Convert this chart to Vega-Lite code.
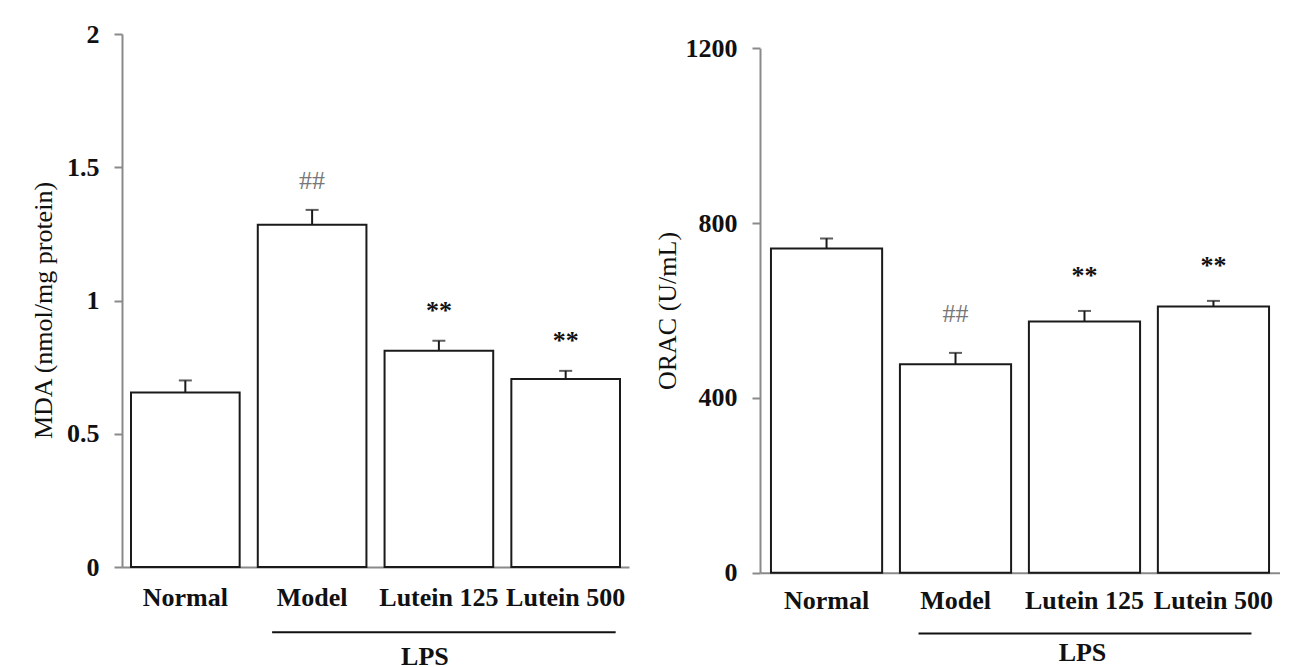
{
  "$schema": "https://vega.github.io/schema/vega-lite/v6.json",
  "background": "white",
  "padding": {"left": 30, "top": 21, "right": 0, "bottom": 0},
  "config": {
    "font": "Liberation Serif",
    "view": {"stroke": null},
    "axis": {"grid": false, "labelFont": "Liberation Serif", "titleFont": "Liberation Serif"}
  },
  "datasets": {
    "mda": [
      {"group": "Normal", "value": 0.655, "upper": 0.70, "sig": ""},
      {"group": "Model", "value": 1.284, "upper": 1.34, "sig": "##"},
      {"group": "Lutein 125", "value": 0.811, "upper": 0.849, "sig": "**"},
      {"group": "Lutein 500", "value": 0.705, "upper": 0.736, "sig": "**"}
    ],
    "orac": [
      {"group": "Normal", "value": 742, "upper": 765, "sig": ""},
      {"group": "Model", "value": 477, "upper": 503, "sig": "##"},
      {"group": "Lutein 125", "value": 575, "upper": 599, "sig": "**"},
      {"group": "Lutein 500", "value": 609, "upper": 622, "sig": "**"}
    ],
    "lps": [
      {"label": "LPS", "from": "Model", "to": "Lutein 500", "center": "Lutein 125"}
    ]
  },
  "spacing": 25,
  "hconcat": [
    {
      "width": 507,
      "height": 533,
      "layer": [
        {
          "data": {"name": "mda"},
          "mark": {"type": "bar", "fill": "white", "stroke": "#1a1a1a", "strokeWidth": 2},
          "encoding": {
            "x": {
              "field": "group", "type": "nominal",
              "scale": {"domain": ["Normal", "Model", "Lutein 125", "Lutein 500"], "paddingInner": 0.143, "paddingOuter": 0.071},
              "axis": {
                "title": null, "labelAngle": 0, "ticks": false,
                "domainColor": "#8a8a8a", "domainWidth": 2,
                "labelFontSize": 26, "labelFontWeight": "bold", "labelColor": "#111",
                "labelPadding": 17
              }
            },
            "y": {
              "field": "value", "type": "quantitative",
              "scale": {"domain": [0, 2], "nice": false},
              "axis": {
                "title": "MDA (nmol/mg protein)", "values": [0, 0.5, 1, 1.5, 2], "format": "~g",
                "domainColor": "#8a8a8a", "domainWidth": 2,
                "tickColor": "#8a8a8a", "tickWidth": 2, "tickSize": 8,
                "labelFontSize": 26, "labelFontWeight": "bold", "labelColor": "#111", "labelPadding": 15,
                "titleFontSize": 26, "titleFontWeight": "normal", "titleColor": "#111", "titlePadding": 10,
                "titleY": 276
              }
            }
          }
        },
        {
          "data": {"name": "mda"},
          "mark": {"type": "rule", "strokeWidth": 2, "color": "#1a1a1a"},
          "encoding": {
            "x": {"field": "group", "type": "nominal"},
            "y": {"field": "value", "type": "quantitative"},
            "y2": {"field": "upper"}
          }
        },
        {
          "data": {"name": "mda"},
          "mark": {"type": "tick", "size": 13, "thickness": 2, "color": "#1a1a1a"},
          "encoding": {
            "x": {"field": "group", "type": "nominal"},
            "y": {"field": "upper", "type": "quantitative"}
          }
        },
        {
          "data": {"name": "mda"},
          "transform": [{"filter": "datum.sig == '##'"}],
          "mark": {"type": "text", "fontSize": 26, "color": "#777", "baseline": "middle", "dy": -29},
          "encoding": {
            "x": {"field": "group", "type": "nominal"},
            "y": {"field": "upper", "type": "quantitative"},
            "text": {"field": "sig"}
          }
        },
        {
          "data": {"name": "mda"},
          "transform": [{"filter": "datum.sig == '**'"}],
          "mark": {"type": "text", "fontSize": 26, "fontWeight": "bold", "color": "#111", "baseline": "middle", "dy": -30},
          "encoding": {
            "x": {"field": "group", "type": "nominal"},
            "y": {"field": "upper", "type": "quantitative"},
            "text": {"field": "sig"}
          }
        },
        {
          "data": {"name": "lps"},
          "mark": {"type": "rule", "strokeWidth": 2, "color": "#111", "xOffset": -40, "x2Offset": 50},
          "encoding": {
            "x": {"field": "from", "type": "nominal"},
            "x2": {"field": "to"},
            "y": {"datum": -0.245, "type": "quantitative"}
          }
        },
        {
          "data": {"name": "lps"},
          "mark": {"type": "text", "fontSize": 26, "fontWeight": "bold", "color": "#111", "baseline": "middle", "dx": -14},
          "encoding": {
            "x": {"field": "center", "type": "nominal"},
            "y": {"datum": -0.336, "type": "quantitative"},
            "text": {"field": "label"}
          }
        }
      ]
    },
    {
      "width": 520,
      "height": 538.7,
      "layer": [
        {
          "data": {"name": "orac"},
          "mark": {"type": "bar", "fill": "white", "stroke": "#1a1a1a", "strokeWidth": 2},
          "encoding": {
            "x": {
              "field": "group", "type": "nominal",
              "scale": {"domain": ["Normal", "Model", "Lutein 125", "Lutein 500"], "paddingInner": 0.138, "paddingOuter": 0.085},
              "axis": {
                "title": null, "labelAngle": 0, "ticks": false,
                "domainColor": "#8a8a8a", "domainWidth": 2,
                "labelFontSize": 26, "labelFontWeight": "bold", "labelColor": "#111",
                "labelPadding": 15
              }
            },
            "y": {
              "field": "value", "type": "quantitative",
              "scale": {"domain": [0, 1200], "nice": false, "range": [538.7, 14.3]},
              "axis": {
                "title": "ORAC (U/mL)", "values": [0, 400, 800, 1200], "format": "d",
                "domainColor": "#8a8a8a", "domainWidth": 2,
                "tickColor": "#8a8a8a", "tickWidth": 2, "tickSize": 8,
                "labelFontSize": 26, "labelFontWeight": "bold", "labelColor": "#111", "labelPadding": 15,
                "titleFontSize": 26, "titleFontWeight": "normal", "titleColor": "#111", "titlePadding": 5
              }
            }
          }
        },
        {
          "data": {"name": "orac"},
          "mark": {"type": "rule", "strokeWidth": 2, "color": "#1a1a1a"},
          "encoding": {
            "x": {"field": "group", "type": "nominal"},
            "y": {"field": "value", "type": "quantitative"},
            "y2": {"field": "upper"}
          }
        },
        {
          "data": {"name": "orac"},
          "mark": {"type": "tick", "size": 13, "thickness": 2, "color": "#1a1a1a"},
          "encoding": {
            "x": {"field": "group", "type": "nominal"},
            "y": {"field": "upper", "type": "quantitative"}
          }
        },
        {
          "data": {"name": "orac"},
          "transform": [{"filter": "datum.sig == '##'"}],
          "mark": {"type": "text", "fontSize": 26, "color": "#777", "baseline": "middle", "dy": -39},
          "encoding": {
            "x": {"field": "group", "type": "nominal"},
            "y": {"field": "upper", "type": "quantitative"},
            "text": {"field": "sig"}
          }
        },
        {
          "data": {"name": "orac"},
          "transform": [{"filter": "datum.sig == '**'"}],
          "mark": {"type": "text", "fontSize": 26, "fontWeight": "bold", "color": "#111", "baseline": "middle", "dy": -35},
          "encoding": {
            "x": {"field": "group", "type": "nominal"},
            "y": {"field": "upper", "type": "quantitative"},
            "text": {"field": "sig"}
          }
        },
        {
          "data": {"name": "lps"},
          "mark": {"type": "rule", "strokeWidth": 2, "color": "#111", "xOffset": -37, "x2Offset": 38},
          "encoding": {
            "x": {"field": "from", "type": "nominal"},
            "x2": {"field": "to"},
            "y": {"datum": -139, "type": "quantitative"}
          }
        },
        {
          "data": {"name": "lps"},
          "mark": {"type": "text", "fontSize": 26, "fontWeight": "bold", "color": "#111", "baseline": "middle", "dx": -2},
          "encoding": {
            "x": {"field": "center", "type": "nominal"},
            "y": {"datum": -184, "type": "quantitative"},
            "text": {"field": "label"}
          }
        }
      ]
    }
  ]
}
